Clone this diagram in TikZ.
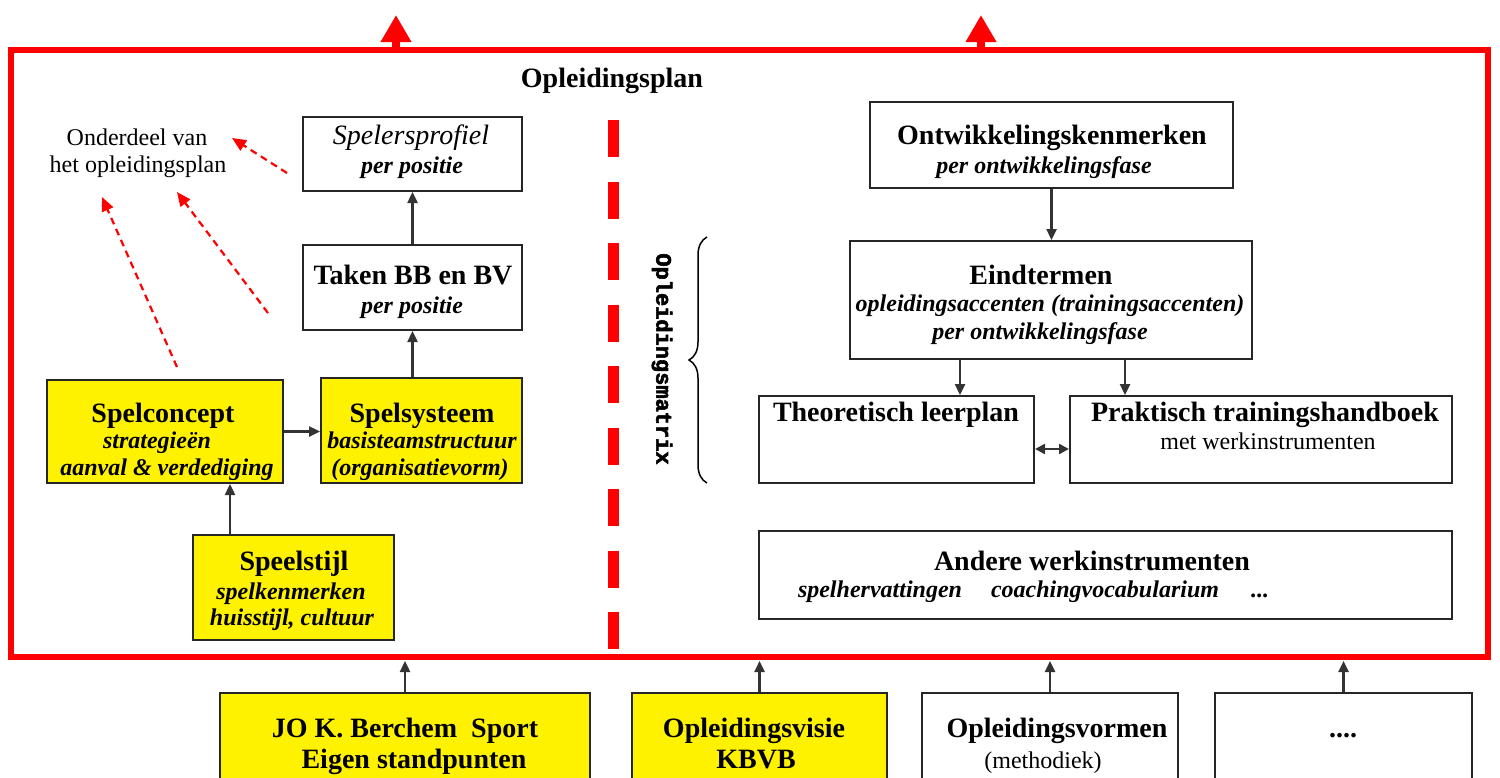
\documentclass[tikz,border=0pt]{standalone}
\usepackage{fontspec}
\setmainfont{Liberation Serif}
\newfontfamily\monofnt{Liberation Mono}[FakeBold=2.5]
\usetikzlibrary{arrows.meta,decorations.pathreplacing}
\begin{document}
\begin{tikzpicture}[x=1pt,y=-1pt,
  box/.style={draw=black!85, line width=2pt, inner sep=0pt},
  ybox/.style={box, fill=yellow},
  T/.style={font=\fontsize{28}{30}\selectfont\bfseries, inner sep=0pt, anchor=base},
  TI/.style={font=\fontsize{28}{30}\selectfont\itshape, inner sep=0pt, anchor=base},
  S/.style={font=\fontsize{24}{27}\selectfont\bfseries\itshape, inner sep=0pt, anchor=base},
  R/.style={font=\fontsize{24}{27}\selectfont, inner sep=0pt, anchor=base},
  arr/.style={draw=black!80, line width=2.4pt, -{Triangle[length=11pt,width=10pt]}},
  darr/.style={draw=black!80, line width=2.4pt, {Triangle[length=10pt,width=10pt]}-{Triangle[length=10pt,width=10pt]}},
  redarr/.style={draw=red, dash pattern=on 7pt off 5pt, line width=2.2pt, -{Triangle[length=14pt,width=12pt]}},
  redup/.style={draw=red, line width=8pt, -{Triangle[length=27pt,width=29pt]}},
]
\useasboundingbox (0,0) rectangle (1500,777);
\clip (0,0) rectangle (1500,777);

% outer frame
\node[draw=red, line width=6pt, minimum width=1477pt, minimum height=607pt, inner sep=0pt] (frame) at (749.5,353.5) {};
\coordinate (up1) at (396,15);
\coordinate (up2) at (981,15);
\draw[redup] (frame.north -| up1) -- (up1);
\draw[redup] (frame.north -| up2) -- (up2);

\node[T] (plan) at (612,87) {Opleidingsplan};

% dashed divider
\coordinate (dv1) at (613.5,120);
\coordinate (dv2) at (613.5,650);
\draw[red, line width=11pt, dash pattern=on 37pt off 24.5pt] (dv1) -- (dv2);

% left boxes
\node[box, minimum width=219pt, minimum height=74pt] (sp) at (412.5,154) {};
\node[box, minimum width=219pt, minimum height=85pt] (tk) at (412.5,287.5) {};
\node[ybox, minimum width=236pt, minimum height=103pt] (sc) at (165,431.5) {};
\node[ybox, minimum width=201pt, minimum height=105pt] (ss) at (421.5,430.5) {};
\node[ybox, minimum width=201pt, minimum height=105pt] (st) at (293.5,587.5) {};

\node[TI] (spt) at (411,144) {Spelersprofiel};
\node[S] (sps) at (412,173) {per positie};
\node[T] (tkt) at (413,284) {Taken BB en BV};
\node[S] (tks) at (412,313) {per positie};
\node[T] (sct) at (163,422) {Spelconcept};
\node[S] (scs1) at (157,448) {strategieën};
\node[S] (scs2) at (167,475) {aanval \& verdediging};
\node[T] (sst) at (422,422) {Spelsysteem};
\node[S] (sss1) at (422,448) {basisteamstructuur};
\node[S] (sss2) at (420,475) {(organisatievorm)};
\node[T] (stt) at (294,570) {Speelstijl};
\node[S] (sts1) at (291,599) {spelkenmerken};
\node[S] (sts2) at (292,625) {huisstijl, cultuur};

% onderdeel label
\node[R] (ond1) at (137,145) {Onderdeel van};
\node[R] (ond2) at (138,172) {het opleidingsplan};
\coordinate (r1s) at (287,173); \coordinate (r1e) at (232,138);
\coordinate (r2s) at (268,313); \coordinate (r2e) at (177,192);
\coordinate (r3s) at (177,367); \coordinate (r3e) at (102,197);
\draw[redarr] (r1s) -- (r1e);
\draw[redarr] (r2s) -- (r2e);
\draw[redarr] (r3s) -- (r3e);

% left arrows
\coordinate (a1) at (230,500);
\draw[arr] (tk.north) -- (sp.south);
\draw[arr] (ss.north -| tk.south) -- (tk.south);
\draw[arr] (sc.east) -- (sc.east -| ss.west);
\draw[arr] (st.north -| a1) -- (sc.south -| a1);

% matrix label and brace
\node[font=\monofnt\bfseries\fontsize{22}{22}\selectfont, rotate=-90, inner sep=0pt] (mx) at (662,359) {Opleidingsmatrix};
\coordinate (bb) at (707,483);
\coordinate (bt) at (707,237);
\draw[line width=1.5pt, decorate, decoration={brace, amplitude=18pt}] (bb) -- (bt);

% right boxes
\node[box, minimum width=363pt, minimum height=86pt] (ok) at (1051.5,145) {};
\node[box, minimum width=402pt, minimum height=118pt] (et) at (1051,300) {};
\node[box, minimum width=275pt, minimum height=87pt] (th) at (896.5,439.5) {};
\node[box, minimum width=382pt, minimum height=87pt] (pr) at (1261,439.5) {};
\node[box, minimum width=693pt, minimum height=88pt] (aw) at (1105.5,575) {};

\node[T] (okt) at (1052,144) {Ontwikkelingskenmerken};
\node[S] (oks) at (1044,173) {per ontwikkelingsfase};
\node[T] (ett) at (1041,284) {Eindtermen};
\node[S] (ets1) at (1050,311) {opleidingsaccenten (trainingsaccenten)};
\node[S] (ets2) at (1040,339) {per ontwikkelingsfase};
\node[T] (tht) at (896,421) {Theoretisch leerplan};
\node[T] (prt) at (1265,421) {Praktisch trainingshandboek};
\node[R] (prs) at (1268,449) {met werkinstrumenten};
\node[T] (awt) at (1092,570) {Andere werkinstrumenten};
\node[S] (aws1) at (880,597) {spelhervattingen};
\node[S] (aws2) at (1105,597) {coachingvocabularium};
\node[S] (aws3) at (1260,597) {...};

\coordinate (xth) at (960,0);
\coordinate (xpr) at (1125,0);
\coordinate (yd) at (0,449);
\draw[arr] (ok.south) -- (ok.south |- et.north);
\draw[arr] (et.south -| xth) -- (th.north -| xth);
\draw[arr] (et.south -| xpr) -- (pr.north -| xpr);
\draw[darr] (th.east |- yd) -- (pr.west |- yd);

% bottom boxes
\node[ybox, minimum width=370pt, minimum height=127pt] (jo) at (405,756.5) {};
\node[ybox, minimum width=255pt, minimum height=127pt] (ov) at (759.5,756.5) {};
\node[box, minimum width=256pt, minimum height=127pt] (ovm) at (1050,756.5) {};
\node[box, minimum width=257pt, minimum height=127pt] (dots) at (1343.5,756.5) {};

\node[T] (jot1) at (405,737) {JO K. Berchem\ \ Sport};
\node[T] (jot2) at (414,768) {Eigen standpunten};
\node[T] (ovt1) at (754,737) {Opleidingsvisie};
\node[T] (ovt2) at (756,768) {KBVB};
\node[T] (ovmt1) at (1057,737) {Opleidingsvormen};
\node[R] (ovmt2) at (1043,768) {(methodiek)};
\node[T] (dotst) at (1343,737) {....};

\coordinate (yb) at (0,661);
\draw[arr] (jo.north) -- (jo.north |- yb);
\draw[arr] (ov.north) -- (ov.north |- yb);
\draw[arr] (ovm.north) -- (ovm.north |- yb);
\draw[arr] (dots.north) -- (dots.north |- yb);
\end{tikzpicture}
\end{document}
